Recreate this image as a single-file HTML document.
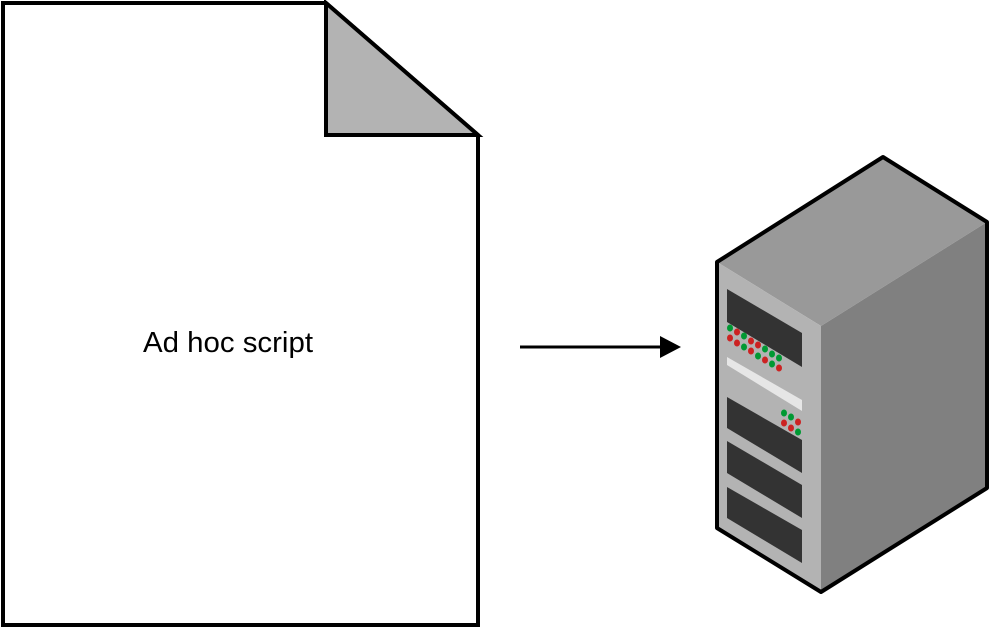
<!DOCTYPE html>
<html><head><style>body{margin:0;background:#fff}svg{display:block}</style></head><body>
<svg width="990" height="628" viewBox="0 0 990 628" xmlns="http://www.w3.org/2000/svg">
<path d="M3,3 L326,3 L478,135 L478,625 L3,625 Z" fill="#fff" stroke="#000" stroke-width="4" stroke-linejoin="miter"/>
<path d="M326,3 L478,135 L326,135 Z" fill="#b3b3b3" stroke="#000" stroke-width="4"/>
<text x="228" y="352" font-family="Liberation Sans, sans-serif" font-size="29" text-anchor="middle" textLength="170" lengthAdjust="spacingAndGlyphs">Ad hoc script</text>
<line x1="520" y1="347" x2="662" y2="347" stroke="#000" stroke-width="3"/>
<path d="M660,336 L681,347 L660,358 Z" fill="#000"/>
<path d="M717,262 L883,157 L987,222 L821,326 Z" fill="#999"/>
<path d="M821,326 L987,222 L987,488 L821,592 Z" fill="#808080"/>
<path d="M717,262 L821,326 L821,592 L717,528 Z" fill="#b3b3b3"/>
<g fill="#333">
<path d="M727,289 L802,333 L802,367 L727,322 Z"/>
<path d="M727,397 L802,440 L802,473 L727,428 Z"/>
<path d="M727,441 L802,485 L802,518 L727,473 Z"/>
<path d="M727,487 L802,530 L802,563 L727,518 Z"/>
</g>
<path d="M727,357 L802,400 L802,411 L727,365 Z" fill="#e6e6e6"/>
<g>
<ellipse cx="730" cy="328" rx="3" ry="3.5" fill="#093"/>
<ellipse cx="737" cy="332" rx="3" ry="3.5" fill="#c22"/>
<ellipse cx="744" cy="336" rx="3" ry="3.5" fill="#093"/>
<ellipse cx="751" cy="341" rx="3" ry="3.5" fill="#c22"/>
<ellipse cx="758" cy="345" rx="3" ry="3.5" fill="#c22"/>
<ellipse cx="765" cy="349" rx="3" ry="3.5" fill="#093"/>
<ellipse cx="772" cy="354" rx="3" ry="3.5" fill="#093"/>
<ellipse cx="779" cy="358" rx="3" ry="3.5" fill="#093"/>
<ellipse cx="730" cy="338" rx="3" ry="3.5" fill="#c22"/>
<ellipse cx="737" cy="343" rx="3" ry="3.5" fill="#c22"/>
<ellipse cx="744" cy="347" rx="3" ry="3.5" fill="#093"/>
<ellipse cx="751" cy="351" rx="3" ry="3.5" fill="#c22"/>
<ellipse cx="758" cy="356" rx="3" ry="3.5" fill="#093"/>
<ellipse cx="765" cy="360" rx="3" ry="3.5" fill="#c22"/>
<ellipse cx="772" cy="364" rx="3" ry="3.5" fill="#093"/>
<ellipse cx="779" cy="368" rx="3" ry="3.5" fill="#c22"/>
<ellipse cx="784" cy="413" rx="3" ry="3.5" fill="#093"/>
<ellipse cx="791" cy="417" rx="3" ry="3.5" fill="#093"/>
<ellipse cx="798" cy="422" rx="3" ry="3.5" fill="#c22"/>
<ellipse cx="784" cy="423" rx="3" ry="3.5" fill="#c22"/>
<ellipse cx="791" cy="428" rx="3" ry="3.5" fill="#c22"/>
<ellipse cx="798" cy="432" rx="3" ry="3.5" fill="#093"/>
</g>
<path d="M717,262 L883,157 L987,222 L987,488 L821,592 L717,528 Z" fill="none" stroke="#000" stroke-width="4" stroke-linejoin="round"/>
</svg>
</body></html>
